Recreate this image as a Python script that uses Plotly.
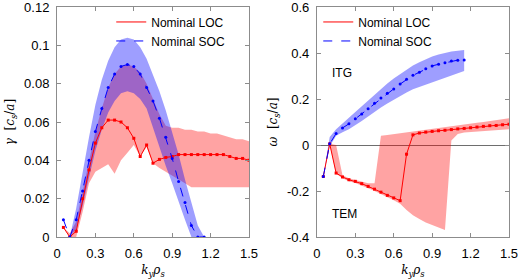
import plotly.graph_objects as go

# ---------------- data ----------------
k_loc = [0.05, 0.1, 0.15, 0.2, 0.25, 0.3, 0.35, 0.4, 0.45, 0.5, 0.55, 0.6, 0.65, 0.7, 0.75,
         0.8, 0.85, 0.9, 0.95, 1.0, 1.05, 1.1, 1.15, 1.2, 1.25, 1.3, 1.35, 1.4, 1.45, 1.5]
k_soc = [0.05, 0.1, 0.15, 0.2, 0.25, 0.3, 0.35, 0.4, 0.45, 0.5, 0.55, 0.6, 0.65, 0.7, 0.75,
         0.8, 0.85, 0.9, 0.95, 1.0, 1.05, 1.1, 1.15]

gamma_loc = [0.005, 0.0, 0.003, 0.020, 0.035, 0.049, 0.057, 0.061, 0.061, 0.060, 0.057, 0.0515,
             0.042, 0.048, 0.0385, 0.0405, 0.0415, 0.042, 0.043, 0.043, 0.043, 0.043, 0.043, 0.043,
             0.043, 0.043, 0.042, 0.041, 0.041, 0.040]
gamma_loc_hi = [0.005, 0.002, 0.008, 0.024, 0.040, 0.055, 0.067, 0.078, 0.085, 0.089, 0.090, 0.089,
                0.086, 0.080, 0.072, 0.064, 0.058, 0.057, 0.057, 0.056, 0.056, 0.055, 0.055, 0.054,
                0.054, 0.053, 0.052, 0.051, 0.051, 0.050]
gamma_loc_lo = [0.005, 0.0, 0.0, 0.013, 0.028, 0.034, 0.036, 0.038, 0.033, 0.040, 0.044, 0.048,
                0.042, 0.047, 0.0385, 0.036, 0.034, 0.032, 0.030, 0.028, 0.026, 0.026, 0.026, 0.026,
                0.026, 0.026, 0.026, 0.026, 0.026, 0.026]

gamma_soc = [0.009, 0.0, 0.009, 0.024, 0.040, 0.055, 0.067, 0.078, 0.085, 0.089, 0.090, 0.089,
             0.085, 0.078, 0.071, 0.062, 0.052, 0.041, 0.029, 0.018, 0.006, 0.0, 0.0]
gamma_soc_hi = [0.009, 0.0, 0.015, 0.034, 0.052, 0.069, 0.082, 0.092, 0.099, 0.103, 0.104, 0.103,
                0.099, 0.093, 0.085, 0.076, 0.066, 0.055, 0.043, 0.030, 0.018, 0.006, 0.0]
gamma_soc_lo = [0.009, 0.0, 0.004, 0.016, 0.031, 0.045, 0.056, 0.065, 0.071, 0.075, 0.076, 0.075,
                0.072, 0.067, 0.057, 0.047, 0.037, 0.028, 0.019, 0.009, 0.0, 0.0, 0.0]

omega_loc = [-0.137, 0.005, -0.122, -0.139, -0.151, -0.158, -0.168, -0.180, -0.192, -0.205, -0.219,
             -0.230, -0.242, -0.040, 0.044, 0.052, 0.056, 0.059, 0.062, 0.064, 0.067, 0.070, 0.072,
             0.075, 0.078, 0.081, 0.084, 0.085, 0.088, 0.090]
omega_loc_hi = [-0.137, 0.005, 0.0, -0.132, -0.145, -0.151, -0.160, -0.166, -0.166, 0.040, 0.044,
                0.048, 0.052, 0.056, 0.060, 0.064, 0.068, 0.072, 0.076, 0.080, 0.083, 0.086, 0.090,
                0.093, 0.097, 0.100, 0.104, 0.108, 0.112, 0.116]
omega_loc_lo = [-0.137, 0.0, -0.125, -0.145, -0.158, -0.165, -0.175, -0.188, -0.200, -0.212, -0.226,
                -0.240, -0.255, -0.283, -0.305, -0.322, -0.337, -0.349, -0.359, -0.370, 0.020, 0.048,
                0.054, 0.057, 0.059, 0.061, 0.063, 0.065, 0.067, 0.069]

omega_soc = [-0.137, 0.005, 0.050, 0.074, 0.092, 0.114, 0.135, 0.158, 0.181, 0.204, 0.225, 0.244,
             0.265, 0.286, 0.303, 0.316, 0.331, 0.344, 0.351, 0.358, 0.365, 0.369, 0.370]
omega_soc_hi = [-0.137, 0.035, 0.068, 0.095, 0.118, 0.143, 0.168, 0.194, 0.219, 0.244, 0.267, 0.289,
                0.309, 0.329, 0.346, 0.360, 0.373, 0.385, 0.394, 0.401, 0.406, 0.410, 0.413]
omega_soc_lo = [-0.137, -0.005, 0.040, 0.055, 0.068, 0.085, 0.104, 0.124, 0.145, 0.163, 0.180, 0.197,
                0.213, 0.228, 0.242, 0.254, 0.265, 0.275, 0.284, 0.292, 0.302, 0.312, 0.322]

x_ticks = [0, 0.3, 0.6, 0.9, 1.2, 1.5]
x_ticklabels = ["0", "0.3", "0.6", "0.9", "1.2", "1.5"]
g_ticks = [0, 0.02, 0.04, 0.06, 0.08, 0.1, 0.12]
g_ticklabels = ["0", "0.02", "0.04", "0.06", "0.08", "0.1", "0.12"]
w_ticks = [-0.4, -0.2, 0, 0.2, 0.4, 0.6]
w_ticklabels = ["-0.4", "-0.2", "0", "0.2", "0.4", "0.6"]

# ---------------- styles ----------------
RED = "#ff0000"
BLUE = "#0000ff"
RED_FILL = "rgba(255,0,0,0.36)"
BLUE_FILL = "rgba(0,0,255,0.38)"
AXC = "#8c8c8c"
FONT = "Liberation Sans"
MATH = "DejaVu Serif"

fig = go.Figure()


def band(x, lo, hi, color, xa, ya):
    fig.add_trace(go.Scatter(
        x=list(x) + list(x)[::-1], y=list(hi) + list(lo)[::-1],
        fill="toself", fillcolor=color, mode="lines", line=dict(width=0),
        showlegend=False, hoverinfo="skip", xaxis=xa, yaxis=ya))


def curves(x, y, color, dash, name, symbol, xa, ya, leg):
    fig.add_trace(go.Scatter(
        x=x, y=y, mode="lines", line=dict(color=color, width=1, dash=dash),
        name=name, legend=leg, xaxis=xa, yaxis=ya))
    fig.add_trace(go.Scatter(
        x=x, y=y, mode="markers", marker=dict(color=color, size=3, symbol=symbol),
        showlegend=False, xaxis=xa, yaxis=ya))


# left panel (growth rate)
band(k_loc, gamma_loc_lo, gamma_loc_hi, RED_FILL, "x", "y")
band(k_soc, gamma_soc_lo, gamma_soc_hi, BLUE_FILL, "x", "y")
curves(k_loc, gamma_loc, RED, "solid", "Nominal LOC", "square", "x", "y", "legend")
curves(k_soc, gamma_soc, BLUE, "dash", "Nominal SOC", "circle", "x", "y", "legend")

# right panel (frequency)
band(k_loc, omega_loc_lo, omega_loc_hi, RED_FILL, "x2", "y2")
band(k_soc, omega_soc_lo, omega_soc_hi, BLUE_FILL, "x2", "y2")
curves(k_loc, omega_loc, RED, "solid", "Nominal LOC", "square", "x2", "y2", "legend2")
curves(k_soc, omega_soc, BLUE, "dash", "Nominal SOC", "circle", "x2", "y2", "legend2")

axis_common = dict(showline=True, linecolor=AXC, linewidth=1, mirror="ticks",
                   ticks="inside", ticklen=4, tickcolor=AXC, showgrid=False,
                   automargin=False, ticklabelstandoff=4, ticklabeloverflow="allow",
                   tickfont=dict(family=FONT, size=13, color="#000"))

xtitle = dict(text="<i>k<sub>y</sub>ρ<sub>s</sub></i>",
              font=dict(family=MATH, size=12, color="#000"), standoff=7)

fig.update_layout(
    width=518, height=279,
    margin=dict(l=57, r=9, t=7, b=42),
    paper_bgcolor="white", plot_bgcolor="white",
    xaxis=dict(domain=[0, 0.4248], range=[0, 1.5001], tickvals=x_ticks, ticktext=x_ticklabels,
               zeroline=False, title=xtitle, **axis_common),
    yaxis=dict(range=[0, 0.12001], tickvals=g_ticks, ticktext=g_ticklabels, zeroline=False,
               title=dict(text="<i>γ</i>  [<i>c<sub>s</sub></i>/<i>a</i>]",
                          font=dict(family=MATH, size=12, color="#000"), standoff=6),
               **axis_common),
    xaxis2=dict(domain=[0.575, 1], range=[0, 1.5001], tickvals=x_ticks, ticktext=x_ticklabels,
                zeroline=False, anchor="y2", title=xtitle, **axis_common),
    yaxis2=dict(range=[-0.4, 0.60001], tickvals=w_ticks, ticktext=w_ticklabels, anchor="x2",
                zeroline=True, zerolinecolor="#6e6e6e", zerolinewidth=1,
                title=dict(text="<i>ω</i>  [<i>c<sub>s</sub></i>/<i>a</i>]",
                           font=dict(family=MATH, size=12, color="#000"), standoff=6),
                **axis_common),
    legend=dict(x=0.12, y=0.998, xanchor="left", yanchor="top", bgcolor="rgba(0,0,0,0)",
                font=dict(family=FONT, size=12, color="#000"), itemwidth=30, tracegroupgap=0),
    legend2=dict(x=0.578, y=0.998, xanchor="left", yanchor="top", bgcolor="rgba(0,0,0,0)",
                 font=dict(family=FONT, size=12, color="#000"), itemwidth=30, tracegroupgap=0),
    annotations=[
        dict(x=0.1, y=0.315, xref="x2", yref="y2", text="ITG", showarrow=False, xanchor="left",
             font=dict(family=FONT, size=12, color="#000")),
        dict(x=0.105, y=-0.30, xref="x2", yref="y2", text="TEM", showarrow=False, xanchor="left",
             font=dict(family=FONT, size=12, color="#000")),
    ],
)

fig.write_html("out.html", config={"displayModeBar": False},
               post_script="document.body.style.margin='0';")
